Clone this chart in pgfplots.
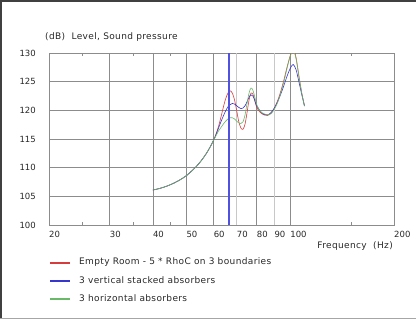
\documentclass[border=0pt]{standalone}
\usepackage{fontspec}
\setmainfont{DejaVu Sans}
\newfontfamily\lbl[LetterSpace=4]{DejaVu Sans}
\usepackage{pgfplots}
\pgfplotsset{compat=1.18}
\definecolor{cred}{RGB}{215,60,60}
\definecolor{cblue}{RGB}{55,55,205}
\definecolor{cgreen}{RGB}{105,185,105}
\definecolor{vblue}{RGB}{80,80,225}
\definecolor{gridc}{RGB}{140,140,140}
\definecolor{gridl}{RGB}{200,200,200}
\definecolor{txt}{RGB}{40,40,40}
\begin{document}
\begin{tikzpicture}[font=\fontsize{8.5bp}{10bp}\selectfont, text=txt]
\useasboundingbox (-49bp,-94bp) rectangle (367bp,225bp);
\fill[white] (-49bp,-94bp) rectangle (367bp,225bp);
\draw[black!75, line width=2bp] (-48bp,-94bp) -- (-48bp,224bp) -- (367bp,224bp);
\draw[black!35, line width=1bp] (-49bp,-93.5bp) -- (367bp,-93.5bp);
\begin{axis}[
  at={(0,0)}, anchor=south west,
  scale only axis, width=345bp, height=172bp,
  xmode=log, xmin=20, xmax=200, ymin=100, ymax=130,
  log basis x=10,
  xtick={20,30,40,50,60,80,100,200},
  xticklabels={20,30,40,50,60,80,100,200},
  extra x ticks={70,90},
  extra x tick labels={70,90},
  extra x tick style={grid style={gridl, line width=0.8bp}},
  minor xtick={25,35,45,150},
  ytick={100,105,...,130},
  xmajorgrids, ymajorgrids,
  grid style={gridc, line width=0.6bp},
  axis line style={gridc, line width=0.8bp},
  major tick length=0pt, minor tick length=3bp,
  tick style={gridc, line width=0.6bp},
  tick align=inside,
  /pgf/number format/assume math mode=true,
  xticklabel style={anchor=north west, inner sep=0pt, yshift=-6bp, xshift=0bp},
  yticklabel style={anchor=east, inner sep=0pt, xshift=-13bp},
  clip=true,
]
\addplot[cred, line width=0.6bp, smooth] coordinates {
(40,106.1)(42,106.4)(44,106.8)(46,107.3)(48,107.9)(50,108.6)(52,109.5)(54,110.5)(56,111.7)(58,113.1)(60,114.8)
(61,115.9)(62,117.2)(63,118.8)(64,120.5)(65,122.0)(66,123.0)(67,123.4)(68,123.0)(69,121.8)(70,119.9)
(71,118.0)(72,116.9)(73,116.7)(74,117.6)(75,119.6)(76,121.8)(77,123.0)(78,122.8)(79,121.7)(80,120.5)
(82,119.6)(84,119.2)(86,119.1)(88,119.5)(90,120.4)(92,121.7)(94,123.4)(96,125.4)(98,127.6)(100,129.5)
(102,130.8)(104,129.2)(106,126.0)(108,123.1)(110,120.8)};
\addplot[cblue, line width=0.6bp, smooth] coordinates {
(40,106.1)(42,106.4)(44,106.8)(46,107.3)(48,107.9)(50,108.6)(52,109.5)(54,110.5)(56,111.7)(58,113.1)(60,114.8)
(61,115.8)(62,116.9)(63,118.0)(64,119.0)(65,119.9)(66,120.6)(67,121.0)(68,121.2)(69,121.1)(70,120.8)
(71,120.5)(72,120.3)(73,120.4)(74,120.8)(75,121.5)(76,122.3)(77,122.7)(78,122.5)(79,121.7)(80,120.8)
(82,119.8)(84,119.3)(86,119.2)(88,119.6)(90,120.4)(92,121.5)(94,122.9)(96,124.4)(98,126.0)(100,127.3)
(102,128.0)(104,127.1)(106,125.0)(108,122.8)(110,120.8)};
\addplot[cgreen, line width=0.6bp, smooth] coordinates {
(40,106.1)(42,106.4)(44,106.8)(46,107.3)(48,107.9)(50,108.6)(52,109.5)(54,110.5)(56,111.7)(58,113.1)(60,114.8)
(61,115.6)(62,116.4)(63,117.0)(64,117.6)(65,118.1)(66,118.5)(67,118.7)(68,118.7)(69,118.5)(70,118.1)
(71,117.8)(72,117.7)(73,118.0)(74,119.2)(75,121.2)(76,123.0)(77,123.9)(78,123.5)(79,122.3)(80,121.0)
(82,119.8)(84,119.4)(86,119.2)(88,119.4)(90,120.2)(92,121.4)(94,123.1)(96,125.1)(98,127.4)(100,129.4)
(102,130.5)(104,129.0)(106,126.0)(108,123.0)(110,120.7)};
\addplot[vblue, line width=1.5bp] coordinates {(66.5,100)(66.5,130)};
\end{axis}
\begin{scope}[font=\lbl\fontsize{9bp}{10bp}\selectfont]
\node[anchor=west, inner sep=0pt] at (-4bp,188bp) {(dB)\ \ Level, Sound pressure};
\node[anchor=east, inner sep=0pt] at (344bp,-21bp) {Frequency\ \ (Hz)};
\draw[cred, line width=2.5bp] (1bp,-38bp) -- (21bp,-38bp);
\draw[cblue, line width=2.5bp] (1bp,-56bp) -- (21bp,-56bp);
\draw[cgreen, line width=2.5bp] (1bp,-74bp) -- (21bp,-74bp);
\node[anchor=west, inner sep=0pt] at (30bp,-37bp) {Empty Room - 5 * RhoC on 3 boundaries};
\node[anchor=west, inner sep=0pt] at (30bp,-55bp) {3 vertical stacked absorbers};
\node[anchor=west, inner sep=0pt] at (30bp,-73bp) {3 horizontal absorbers};
\end{scope}
\end{tikzpicture}
\end{document}
